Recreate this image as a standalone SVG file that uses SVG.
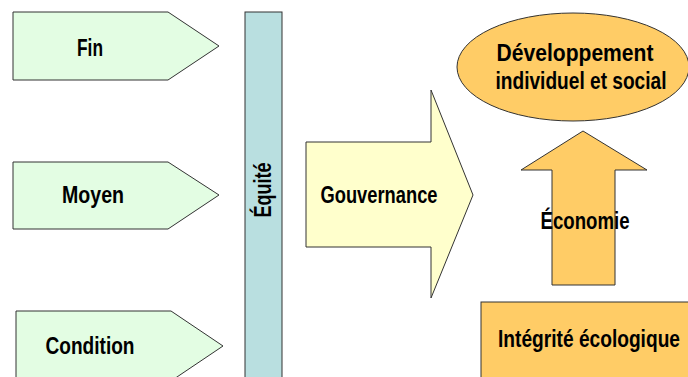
<svg xmlns="http://www.w3.org/2000/svg" width="688" height="377" viewBox="0 0 688 377">
<style>
.t{font-family:"Liberation Sans Narrow","Liberation Sans",Arial,sans-serif;font-weight:bold;font-size:24.5px;fill:#000;text-anchor:middle}
.g{fill:#e3fde3;stroke:#333;stroke-width:1}
.y{fill:#ffffcc;stroke:#333;stroke-width:1}
.o{fill:#ffcc66;stroke:#333;stroke-width:1}
.b{fill:#b9dfe0;stroke:#333;stroke-width:1}
</style>
<rect width="688" height="377" fill="#fff"/>
<g id="fin">
<polygon class="g" points="13,12 168,12 219,46 168,80 13,80"/>
<text class="t" x="90" y="56" textLength="26" lengthAdjust="spacingAndGlyphs">Fin</text>
</g>
<g id="moyen">
<polygon class="g" points="13,162 168,162 219,195 168,229 13,229"/>
<text class="t" x="93" y="203" textLength="62" lengthAdjust="spacingAndGlyphs">Moyen</text>
</g>
<g id="condition">
<polygon class="g" points="16,311 171,311 223,346 171,381 16,381"/>
<text class="t" x="90" y="354" textLength="89" lengthAdjust="spacingAndGlyphs">Condition</text>
</g>
<g id="equite">
<rect class="b" x="245" y="12" width="37" height="370"/>
<text class="t" transform="translate(271,190) rotate(-90)" x="0" y="0" textLength="55" lengthAdjust="spacingAndGlyphs">Équité</text>
</g>
<g id="gouvernance">
<polygon class="y" points="306,142 431,142 431,90 473,195 431,298 431,247 306,247"/>
<text class="t" x="379" y="203" textLength="117" lengthAdjust="spacingAndGlyphs">Gouvernance</text>
</g>
<g id="developpement">
<ellipse class="o" cx="573" cy="67" rx="116" ry="54"/>
<text class="t" x="575" y="61" textLength="157" lengthAdjust="spacingAndGlyphs">Développement</text>
<text class="t" x="581" y="89" textLength="171" lengthAdjust="spacingAndGlyphs">individuel et social</text>
</g>
<g id="economie">
<polygon class="o" points="552,285 552,170 521,170 583,131 647,170 615,170 615,285"/>
<text class="t" x="585" y="229" textLength="89" lengthAdjust="spacingAndGlyphs">Économie</text>
</g>
<g id="integrite">
<rect class="o" x="481" y="302" width="212" height="80"/>
<text class="t" x="589" y="347" textLength="182" lengthAdjust="spacingAndGlyphs">Intégrité écologique</text>
</g>
<g id="connectors"></g>
</svg>
